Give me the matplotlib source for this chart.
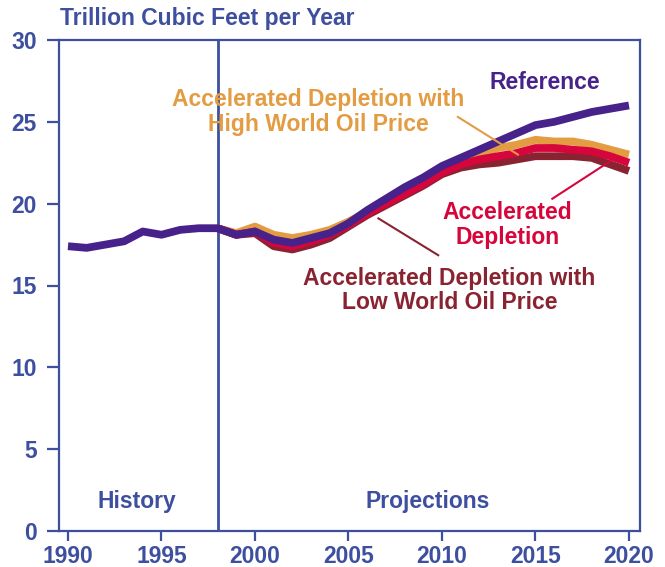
import numpy as np
import matplotlib.pyplot as plt

years = np.arange(1990, 2021)

reference = [17.4, 17.3, 17.5, 17.7, 18.3, 18.1, 18.4, 18.5, 18.5, 18.1,
             18.3, 17.8, 17.6, 17.9, 18.2, 18.8, 19.6, 20.3, 21.0, 21.6,
             22.3, 22.8, 23.3, 23.8, 24.3, 24.8, 25.0, 25.3, 25.6, 25.8, 26.0]

# projections start in 1998, history shared with reference
proj_years = np.arange(1998, 2021)
high_price = [18.5, 18.2, 18.6, 18.1, 17.9, 18.1, 18.4, 18.9, 19.5, 20.2,
              20.9, 21.5, 22.1, 22.6, 23.0, 23.4, 23.6, 23.9, 23.8, 23.8,
              23.6, 23.3, 23.0]
accel = [18.5, 18.1, 18.3, 17.6, 17.4, 17.7, 18.1, 18.7, 19.4, 20.0,
         20.6, 21.2, 21.9, 22.4, 22.7, 22.9, 23.1, 23.4, 23.4, 23.3,
         23.2, 22.9, 22.5]
low_price = [18.5, 18.1, 18.2, 17.4, 17.2, 17.5, 17.9, 18.6, 19.3, 19.9,
             20.5, 21.1, 21.8, 22.2, 22.4, 22.5, 22.7, 22.9, 22.9, 22.9,
             22.8, 22.4, 22.0]

AXIS = '#3D4F9E'
PURPLE = '#47228A'
ORANGE = '#E39C42'
RED = '#D6053B'
DARKRED = '#8A2331'

plt.rcParams['font.family'] = ['Liberation Sans', 'DejaVu Sans']
plt.rcParams['font.weight'] = 'bold'

fig = plt.figure(figsize=(6.65, 5.67), dpi=100)
ax = fig.add_axes([59 / 665, 36 / 567, 581 / 665, 491 / 567])

lw = 5.6
ax.plot(proj_years, high_price, color=ORANGE, lw=lw, solid_capstyle='butt', zorder=3)
ax.plot(proj_years, accel, color=RED, lw=lw, solid_capstyle='butt', zorder=4)
ax.plot(proj_years, low_price, color=DARKRED, lw=lw, solid_capstyle='butt', zorder=3.5)
ax.plot(years, reference, color=PURPLE, lw=lw, solid_capstyle='butt', zorder=5)

ax.axvline(1998, color=AXIS, lw=2, zorder=2)

ax.set_xlim(1989.52, 2020.59)
ax.set_ylim(0, 30)
ax.set_xticks(range(1990, 2021, 5))
ax.set_yticks(range(0, 31, 5))
for s in ax.spines.values():
    s.set_color(AXIS)
    s.set_linewidth(1.6)
ax.tick_params(colors=AXIS, width=1.6, length=7, labelsize=16.5, pad=3)
ax.tick_params(axis='y', length=9, pad=7)
for lab in ax.get_xticklabels() + ax.get_yticklabels():
    lab.set_fontweight('bold')

fs = 16.5
fig.text(60 / 665, 1 - 19 / 567, 'Trillion Cubic Feet per Year', color=AXIS,
         fontsize=fs, fontweight='bold', ha='left', va='center')

ax.text(1993.7, 1.8, 'History', color=AXIS, fontsize=fs, fontweight='bold',
        ha='center', va='center')
ax.text(2009.25, 1.8, 'Projections', color=AXIS, fontsize=fs, fontweight='bold',
        ha='center', va='center')

ax.text(2015.5, 27.4, 'Reference', color=PURPLE, fontsize=fs, fontweight='bold',
        ha='center', va='center')
ax.text(2003.4, 25.6, 'Accelerated Depletion with\nHigh World Oil Price', color=ORANGE,
        fontsize=fs, fontweight='bold', ha='center', va='center', linespacing=1.1)
ax.text(2013.5, 18.7, 'Accelerated\nDepletion', color=RED, fontsize=fs,
        fontweight='bold', ha='center', va='center', linespacing=1.1)
ax.text(2010.4, 14.7, 'Accelerated Depletion with\nLow World Oil Price', color=DARKRED,
        fontsize=fs, fontweight='bold', ha='center', va='center', linespacing=1.1)

ax.plot([2010.85, 2014.06], [25.3, 23.0], color=ORANGE, lw=1.5, zorder=6)
ax.plot([2015.9, 2019.0], [20.3, 22.6], color=RED, lw=1.5, zorder=6)
ax.plot([2006.6, 2009.8], [19.1, 16.85], color=DARKRED, lw=1.5, zorder=6)

fig.savefig('out.png', dpi=100)
